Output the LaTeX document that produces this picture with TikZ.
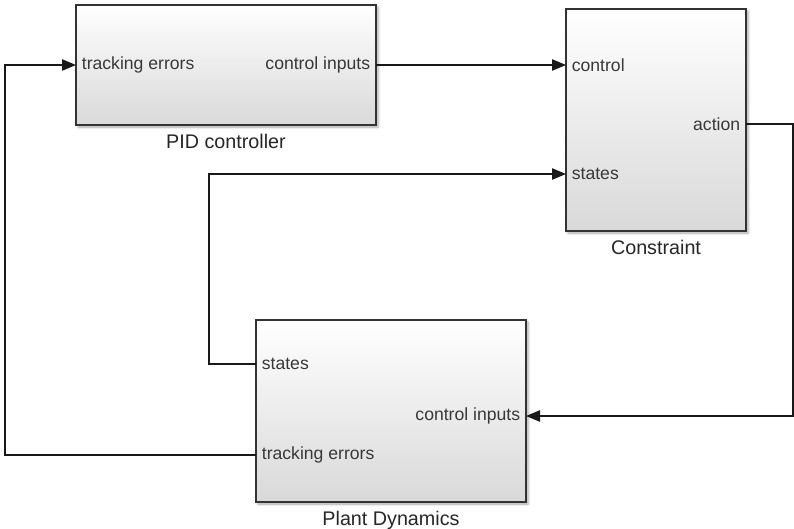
\documentclass[tikz,border=0pt]{standalone}
\usepackage{fontspec}
\setmainfont{Liberation Sans}
\usetikzlibrary{positioning,arrows.meta,shadows.blur}

\begin{document}
\begin{tikzpicture}[x=0.75pt,y=-0.75pt,
  block/.style={draw=black!80, line width=1.1pt, inner sep=0pt,
    top color=white, bottom color=black!15,
    blur shadow={shadow xshift=1.5pt, shadow yshift=-1.5pt,
      shadow blur radius=2pt, shadow opacity=35}},
  blockname/.style={text=black!85, font=\fontsize{14.8}{17}\selectfont},
  inport/.style={anchor=west, inner sep=4.2pt, text=black!78,
    font=\fontsize{13.2}{15}\selectfont},
  outport/.style={inport, anchor=east},
  sig/.style={draw=black!90, line width=1pt,
    -{Triangle[length=10.5pt,width=8.5pt]}},
  wire/.style={draw=black!90, line width=1pt}]
% page in pixel units, y pointing down
\useasboundingbox (0,0) rectangle (794,529);

% blocks
\node[block, minimum width=225pt, minimum height=90pt] (pid) at (226,65) {};
\node[block, minimum width=135pt, minimum height=166.5pt] (con) at (656,120) {};
\node[block, minimum width=202.5pt, minimum height=136.5pt] (plant) at (391,411) {};

\node[blockname, below=3pt of pid] (pidName) {PID controller};
\node[blockname, below=3pt of con] (conName) {Constraint};
\node[blockname, below=3pt of plant] (plantName) {Plant Dynamics};

% ports
\coordinate (pidIn) at (76,65);
\coordinate (pidOut) at (376,65);
\coordinate (conCtl) at (566,65);
\coordinate (conSt) at (566,174);
\coordinate (conAct) at (746,124);
\coordinate (plantSt) at (256,364);
\coordinate (plantIn) at (526,416);
\coordinate (plantErr) at (256,455);

\node[inport] (pidInLbl) at (pidIn) {tracking errors};
\node[outport] (pidOutLbl) at (pidOut) {control inputs};
\node[inport] (conCtlLbl) at (conCtl) {control};
\node[inport] (conStLbl) at (conSt) {states};
\node[outport] (conActLbl) at (conAct) {action};
\node[inport] (plantStLbl) at (plantSt) {states};
\node[outport] (plantInLbl) at (plantIn) {control inputs};
\node[inport] (plantErrLbl) at (plantErr) {tracking errors};

% signal lines
\coordinate (rightBus) at (793,124);
\coordinate (stBend) at (209,364);
\coordinate (leftBus) at (5,455);

\draw[sig] (pidOut) -- (conCtl);
\draw[sig] (conAct) -- (rightBus) |- (plantIn);
\draw[sig] (plantSt) -- (stBend) |- (conSt);
\draw[sig] (plantErr) -- (leftBus) |- (pidIn);
\end{tikzpicture}
\end{document}
